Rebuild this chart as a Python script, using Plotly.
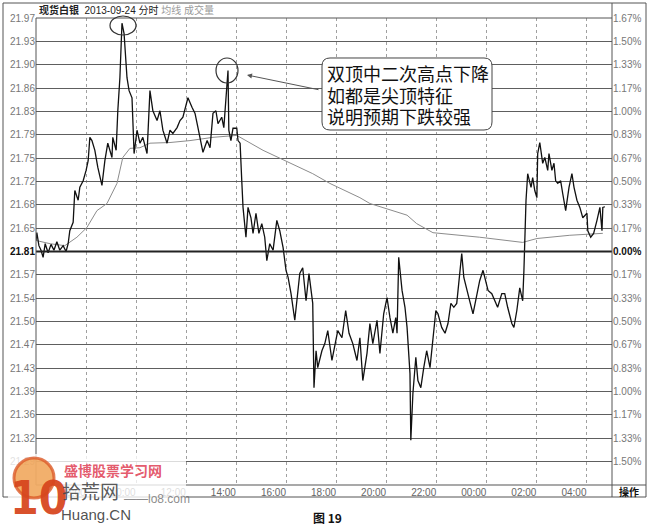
import plotly.graph_objects as go
import pandas as pd

# ---------------- data ----------------
BASE_PRICE = 21.61
ROW_STEP = 0.036
SESSION_START = "2013-09-24 06:00"
SESSION_END = "2013-09-25 05:00"

# minutes after session start (06:00) and price of the 分时 line
price_minutes = [
    0, 2, 7, 12, 17, 22, 29, 36, 43, 50,
    57, 65, 72, 77, 81, 89, 93, 101, 105, 113,
    120, 125, 129, 134, 141, 148, 158, 165, 172, 182,
    184, 192, 196, 201, 206, 211, 218, 223, 230, 235,
    242, 249, 256, 266, 273, 280, 290, 297, 304, 314,
    321, 328, 338, 345, 352, 364, 374, 381, 388, 398,
    400, 410, 417, 424, 431, 436, 445, 450, 457, 460,
    462, 467, 472, 481, 484, 489, 493, 496, 503, 508,
    515, 520, 527, 534, 541, 548, 553, 560, 568, 577,
    584, 592, 599, 604, 611, 620, 625, 632, 639, 647,
    654, 663, 666, 671, 675, 685, 692, 699, 709, 716,
    723, 733, 742, 750, 759, 769, 776, 783, 793, 800,
    807, 817, 824, 833, 841, 848, 855, 862, 865, 869,
    877, 884, 889, 896, 898, 903, 910, 915, 922, 929,
    936, 944, 951, 958, 963, 972, 980, 987, 994, 1001,
    1008, 1015, 1020, 1025, 1032, 1039, 1047, 1056, 1063, 1071,
    1075, 1083, 1092, 1099, 1106, 1116, 1123, 1130, 1140, 1145,
    1152, 1159, 1166, 1169, 1174, 1178, 1186, 1190, 1195, 1200,
    1202, 1207, 1214, 1219, 1226, 1229, 1236, 1241, 1245, 1250,
    1257, 1262, 1269, 1277, 1284, 1289, 1296, 1303, 1310, 1320,
    1322, 1329, 1336, 1344, 1351, 1356, 1358, 1363,
]
price_values = [
    21.627, 21.639, 21.619, 21.612, 21.601, 21.622, 21.608, 21.621, 21.612, 21.625,
    21.612, 21.619, 21.610, 21.622, 21.642, 21.655, 21.704, 21.689, 21.709, 21.719,
    21.735, 21.750, 21.786, 21.781, 21.766, 21.740, 21.712, 21.750, 21.777, 21.755,
    21.786, 21.766, 21.827, 21.878, 21.962, 21.946, 21.878, 21.858, 21.847, 21.761,
    21.797, 21.777, 21.786, 21.761, 21.858, 21.827, 21.812, 21.827, 21.797, 21.777,
    21.797, 21.792, 21.801, 21.812, 21.817, 21.847, 21.832, 21.823, 21.801, 21.770,
    21.763, 21.781, 21.770, 21.823, 21.827, 21.807, 21.817, 21.801, 21.874, 21.889,
    21.797, 21.781, 21.800, 21.800, 21.781, 21.777, 21.719, 21.678, 21.632, 21.678,
    21.662, 21.638, 21.669, 21.638, 21.653, 21.632, 21.596, 21.622, 21.612, 21.658,
    21.642, 21.616, 21.581, 21.570, 21.545, 21.504, 21.534, 21.576, 21.585, 21.534,
    21.576, 21.530, 21.400, 21.457, 21.431, 21.457, 21.468, 21.488, 21.442, 21.468,
    21.488, 21.477, 21.519, 21.484, 21.468, 21.442, 21.477, 21.411, 21.453, 21.499,
    21.468, 21.504, 21.453, 21.514, 21.539, 21.508, 21.484, 21.508, 21.484, 21.601,
    21.550, 21.524, 21.493, 21.422, 21.319, 21.391, 21.447, 21.411, 21.400, 21.431,
    21.457, 21.431, 21.477, 21.519, 21.514, 21.493, 21.484, 21.499, 21.530, 21.524,
    21.530, 21.576, 21.607, 21.570, 21.554, 21.534, 21.514, 21.545, 21.565, 21.581,
    21.570, 21.550, 21.545, 21.534, 21.524, 21.545, 21.545, 21.524, 21.499, 21.493,
    21.519, 21.554, 21.534, 21.581, 21.689, 21.730, 21.709, 21.724, 21.704, 21.693,
    21.761, 21.778, 21.746, 21.755, 21.735, 21.761, 21.735, 21.746, 21.719, 21.715,
    21.719, 21.699, 21.673, 21.709, 21.730, 21.709, 21.689, 21.678, 21.662, 21.669,
    21.642, 21.632, 21.638, 21.658, 21.678, 21.642, 21.678, 21.679,
]

# 均线 (average price line)
avg_minutes = [0, 34, 69, 98, 122, 146, 170, 194, 208, 225,
               249, 273, 321, 369, 424, 481, 544, 608, 663, 704,
               776, 800, 889, 912, 951, 1063, 1166, 1200, 1279, 1358]
avg_values = [21.627, 21.622, 21.619, 21.632, 21.647, 21.673, 21.684, 21.715, 21.755, 21.769,
              21.770, 21.777, 21.778, 21.781, 21.786, 21.789, 21.766, 21.746, 21.730, 21.715,
              21.693, 21.684, 21.666, 21.653, 21.639, 21.632, 21.624, 21.630, 21.635, 21.638]

row_index = list(range(10, -10, -1))  # rows from top (+10) to bottom (-9)
left_tick_labels = ["21.97", "21.93", "21.90", "21.86", "21.83", "21.79", "21.75", "21.72",
                    "21.68", "21.65", "21.81", "21.57", "21.54", "21.50", "21.47", "21.43",
                    "21.39", "21.36", "21.32", "21.29"]
right_tick_labels = ["1.67%", "1.50%", "1.33%", "1.17%", "1.00%", "0.83%", "0.67%", "0.50%",
                     "0.33%", "0.17%", "0.00%", "0.17%", "0.33%", "0.50%", "0.67%", "0.83%",
                     "1.00%", "1.17%", "1.33%", "1.50%"]
time_tick_labels = ["08:00", "10:00", "12:00", "14:00", "16:00", "18:00",
                    "20:00", "22:00", "00:00", "02:00", "04:00"]

note_lines = ["双顶中二次高点下降", "如都是尖顶特征", "说明预期下跌较强"]

# ---------------- geometry helpers (pixel -> paper) ----------------
W, H = 650, 531
PL, PR, PT, PB = 36, 612, 18, 485


def px(x):
    return (x - PL) / (PR - PL)


def py(y):
    return (PB - y) / (PB - PT)


start = pd.Timestamp(SESSION_START)
end = pd.Timestamp(SESSION_END)
price_t = start + pd.to_timedelta(price_minutes, unit="m")
avg_t = start + pd.to_timedelta(avg_minutes, unit="m")
time_tickvals = [start + pd.Timedelta(hours=2 * (i + 1)) for i in range(len(time_tick_labels))]

ytickvals = [BASE_PRICE + k * ROW_STEP for k in row_index]
left_text = [("<span style='color:#111'><b>%s</b></span>" % t) if k == 0 else t
             for k, t in zip(row_index, left_tick_labels)]
right_text = [("<span style='color:#111'><b>%s</b></span>" % t) if k == 0 else t
              for k, t in zip(row_index, right_tick_labels)]

FONT = "Liberation Sans, Arial, Noto Sans CJK SC, sans-serif"
CJK = "Noto Sans CJK SC, sans-serif"

fig = go.Figure()
fig.add_trace(go.Scatter(x=avg_t, y=avg_values, mode="lines",
                         line=dict(color="#8c8c8c", width=1), hoverinfo="skip"))
fig.add_trace(go.Scatter(x=price_t, y=price_values, mode="lines",
                         line=dict(color="#111111", width=1.3), hoverinfo="skip"))
fig.add_trace(go.Scatter(x=[start], y=[BASE_PRICE], yaxis="y2", mode="markers",
                         marker=dict(opacity=0), hoverinfo="skip"))

yrange = [BASE_PRICE - 10 * ROW_STEP, BASE_PRICE + 10 * ROW_STEP]

fig.update_layout(
    width=W, height=H,
    margin=dict(l=PL, r=W - PR, t=PT, b=H - PB, pad=0, autoexpand=False),
    paper_bgcolor="white", plot_bgcolor="white",
    showlegend=False,
    font=dict(family=FONT, size=10, color="#666"),
    xaxis=dict(type="date", range=[start, end], tickvals=time_tickvals, ticktext=time_tick_labels,
               ticks="", ticklen=0, ticklabelshift=-13, showgrid=True, gridcolor="#a0a0a0",
               griddash="dot", gridwidth=1, zeroline=False, showline=False, automargin=False,
               tickfont=dict(size=10, color="#666", family=FONT)),
    yaxis=dict(range=yrange, tickvals=ytickvals, ticktext=left_text, ticks="", ticklen=0,
               showgrid=True, gridcolor="#5e5e5e", gridwidth=1, zeroline=False, showline=False,
               automargin=False, tickfont=dict(size=10, color="#777", family=FONT)),
    yaxis2=dict(range=yrange, overlaying="y", side="right", tickvals=ytickvals, ticklen=0,
                ticktext=right_text, ticks="", showgrid=False, zeroline=False, showline=False,
                automargin=False, tickfont=dict(size=10, color="#777", family=FONT)),
)

shapes = []
LC = "#555"
# zero (previous close) line
shapes.append(dict(type="line", xref="paper", yref="y", x0=0, x1=1, y0=BASE_PRICE, y1=BASE_PRICE,
                   line=dict(color="#222", width=2)))
# frames
shapes.append(dict(type="rect", xref="paper", yref="paper", x0=px(3), x1=px(646), y0=py(497), y1=py(3),
                   line=dict(color=LC, width=1)))
shapes.append(dict(type="line", xref="paper", yref="paper", x0=0, x1=px(646), y0=0, y1=0,
                   line=dict(color=LC, width=1.2)))
shapes.append(dict(type="line", xref="paper", yref="paper", x0=0, x1=1, y0=1, y1=1,
                   line=dict(color=LC, width=1)))
shapes.append(dict(type="line", xref="paper", yref="paper", x0=0, x1=0, y0=0, y1=1,
                   line=dict(color=LC, width=1)))
shapes.append(dict(type="line", xref="paper", yref="paper", x0=1, x1=1, y0=py(497), y1=py(3),
                   line=dict(color=LC, width=1)))
# circles around the two peaks
shapes.append(dict(type="circle", xref="paper", yref="paper", x0=px(110), x1=px(136), y0=py(35), y1=py(16),
                   line=dict(color="#333", width=1.2)))
shapes.append(dict(type="circle", xref="paper", yref="paper", x0=px(216), x1=px(238), y0=py(83), y1=py(58),
                   line=dict(color="#333", width=1.2)))
# rounded note box
bx0, bx1, by0, by1, r = 322, 492, 58, 130, 8


def P(x, y):
    return "%.5f,%.5f" % (px(x), py(y))


path = ("M " + P(bx0 + r, by0) + " L " + P(bx1 - r, by0) + " Q " + P(bx1, by0) + " " + P(bx1, by0 + r) +
        " L " + P(bx1, by1 - r) + " Q " + P(bx1, by1) + " " + P(bx1 - r, by1) +
        " L " + P(bx0 + r, by1) + " Q " + P(bx0, by1) + " " + P(bx0, by1 - r) +
        " L " + P(bx0, by0 + r) + " Q " + P(bx0, by0) + " " + P(bx0 + r, by0) + " Z")
shapes.append(dict(type="path", xref="paper", yref="paper", path=path, fillcolor="white",
                   line=dict(color="#444", width=1), layer="above"))
# watermark panel
shapes.append(dict(type="rect", xref="paper", yref="paper", x0=px(8), x1=px(186), y0=py(528), y1=py(454),
                   fillcolor="rgba(255,255,255,0.78)", line=dict(width=0), layer="above"))
shapes.append(dict(type="circle", xref="paper", yref="paper", x0=px(14), x1=px(54), y0=py(498), y1=py(458),
                   fillcolor="rgba(238,150,60,0.75)", line=dict(color="rgba(220,90,40,0.8)", width=3),
                   layer="above"))
fig.update_layout(shapes=shapes)

ann = []
ann.append(dict(xref="paper", yref="paper", x=px(37), y=py(10), xanchor="left", yanchor="middle",
                showarrow=False,
                text="<b>现货白银</b>  2013-09-24 分时 <span style='color:#9a9a9a'>均线 成交量</span>",
                font=dict(size=10, color="#222", family=FONT)))
for i, line in enumerate(note_lines):
    ann.append(dict(xref="paper", yref="paper", x=px(325), y=py(73 + 21.5 * i), xanchor="left",
                    yanchor="middle", showarrow=False, text=line,
                    font=dict(size=18, color="#111", family=CJK)))
ann.append(dict(xref="paper", yref="paper", x=px(247), y=py(75), ax=73, ay=15, text="",
                showarrow=True, arrowhead=2, arrowsize=1, arrowwidth=1, arrowcolor="#555"))
ann.append(dict(xref="paper", yref="paper", x=px(629), y=py(491), xanchor="center", yanchor="middle",
                showarrow=False, text="<b>操作</b>", font=dict(size=10, color="#111", family=CJK)))
ann.append(dict(xref="paper", yref="paper", x=px(327), y=py(517), xanchor="center", yanchor="middle",
                showarrow=False, text="<b>图 19</b>", font=dict(size=12, color="#111", family=CJK)))
# watermark texts
ann.append(dict(xref="paper", yref="paper", x=px(8), y=py(498), xanchor="left", yanchor="middle",
                showarrow=False, text="<b>10</b>",
                font=dict(size=46, color="rgba(215,70,30,0.95)", family="DejaVu Sans Condensed, sans-serif")))
ann.append(dict(xref="paper", yref="paper", x=px(62), y=py(470), xanchor="left", yanchor="middle",
                showarrow=False, text="<b>盛博股票学习网</b>",
                font=dict(size=14, color="rgba(225,70,90,0.9)", family=CJK)))
ann.append(dict(xref="paper", yref="paper", x=px(60), y=py(490), xanchor="left", yanchor="middle",
                showarrow=False, text="拾荒网",
                font=dict(size=19, color="rgba(70,70,70,0.9)", family=CJK)))
ann.append(dict(xref="paper", yref="paper", x=px(122), y=py(499), xanchor="left", yanchor="middle",
                showarrow=False, text="——lo8.com",
                font=dict(size=12, color="rgba(110,110,110,0.8)", family=FONT)))
ann.append(dict(xref="paper", yref="paper", x=px(59), y=py(514), xanchor="left", yanchor="middle",
                showarrow=False, text="Huang.CN",
                font=dict(size=15, color="rgba(60,60,60,0.9)", family=FONT)))
fig.update_layout(annotations=ann)

fig.write_html("out.html", config={"displayModeBar": False},
               post_script="document.body.style.margin='0';document.body.style.overflow='hidden';")
